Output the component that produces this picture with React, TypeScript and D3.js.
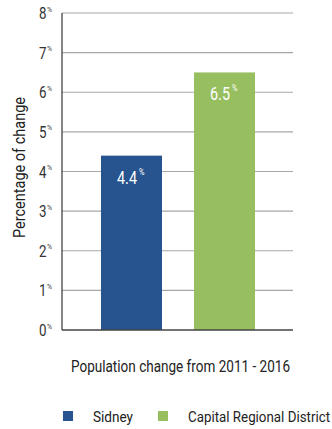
import React from "react";
import * as d3 from "d3";

const categories = ["Sidney", "Capital Regional District"];
const values = [4.4, 6.5];
const valueLabels = ["4.4", "6.5"];
const colors = ["#27548f", "#97be5f"];
const ticks = [0, 1, 2, 3, 4, 5, 6, 7, 8];
const xTitle = "Population change from 2011 - 2016";
const yTitle = "Percentage of change";

const FONT = "Roboto, 'Liberation Sans', sans-serif";

export default function App() {
  const W = 332, H = 429;
  const left = 62, right = 293, top = 13, bottom = 330;
  const y = d3.scaleLinear().domain([0, 8]).range([bottom, top]);
  const x = d3.scaleBand().domain(categories).range([70, 286]).paddingInner(0.344).paddingOuter(0.333);
  const legendX = [63, 158];
  const legendLen = [40, 142];

  return (
    <svg width={W} height={H} style={{ position: "absolute", left: 0, top: 0, background: "#fff" }} fontFamily={FONT}>
      {ticks.map((t) => (
        <g key={t}>
          {t > 0 && <line x1={left} x2={right} y1={y(t)} y2={y(t)} stroke="#a8a8a8" strokeWidth={1.2} />}
          <text x={39} y={y(t) + 6} fontSize={16.5} fill="#333" textLength={7.5} lengthAdjust="spacingAndGlyphs">{t}</text>
          <text x={47} y={y(t) - 1.5} fontSize={8} fill="#333" textLength={5} lengthAdjust="spacingAndGlyphs">%</text>
        </g>
      ))}
      {categories.map((c, i) => (
        <g key={c}>
          <rect x={x(c)} y={y(values[i])} width={x.bandwidth()} height={bottom - y(values[i])} fill={colors[i]} />
          <text x={x(c)! + x.bandwidth() / 2 - 14.5} y={y(values[i]) + 28} fontSize={17.5} fill="#fff" textLength={20} lengthAdjust="spacingAndGlyphs">{valueLabels[i]}</text>
          <text x={x(c)! + x.bandwidth() / 2 + 7.5} y={y(values[i]) + 19} fontSize={8.5} fill="#fff" textLength={5.5} lengthAdjust="spacingAndGlyphs">%</text>
        </g>
      ))}
      <line x1={left} x2={left} y1={top} y2={bottom} stroke="#444" strokeWidth={1.3} />
      <line x1={left} x2={right} y1={bottom} y2={bottom} stroke="#444" strokeWidth={1.3} />
      <text transform={`translate(24.5,238) rotate(-90)`} fontSize={16} fill="#222" textLength={141} lengthAdjust="spacingAndGlyphs">{yTitle}</text>
      <text x={71} y={372} fontSize={16.5} fill="#222" textLength={219} lengthAdjust="spacingAndGlyphs">{xTitle}</text>
      {categories.map((c, i) => (
        <g key={c}>
          <rect x={legendX[i]} y={411} width={10} height={10} fill={colors[i]} />
          <text x={legendX[i] + 30} y={422} fontSize={15.5} fill="#222" textLength={legendLen[i]} lengthAdjust="spacingAndGlyphs">{c}</text>
        </g>
      ))}
    </svg>
  );
}
